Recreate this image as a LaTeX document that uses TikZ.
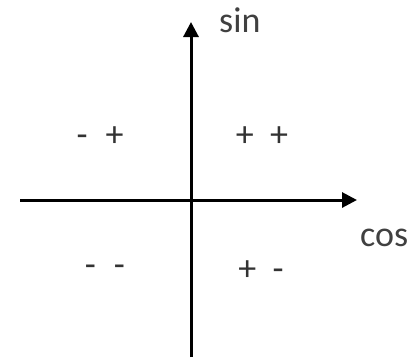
\documentclass[tikz,border=0pt]{standalone}
\usepackage{fontspec}
\setmainfont{Carlito}
\usetikzlibrary{arrows.meta}
\begin{document}
\begin{tikzpicture}[x=1bp,y=-1bp,
  axis/.style={line width=3bp,-{Triangle[length=15bp,width=15bp]}},
  lbl/.style={inner sep=0pt,text=black!75,font=\fontsize{36bp}{40bp}\selectfont},
  sgn/.style={inner sep=0pt,text=black!80,font=\fontsize{36bp}{40bp}\selectfont}]
\useasboundingbox (0,0) rectangle (419,359);
\coordinate (vb) at (191,357);
\coordinate (vt) at (191,22);
\coordinate (hl) at (20,200);
\coordinate (hr) at (357,200);
\draw[axis] (vb) -- (vt);
\draw[axis] (hl) -- (hr);
\node[lbl,anchor=base west] (sin) at (219,32) {sin};
\node[lbl,anchor=base west] (cos) at (360,246) {cos};
\node[sgn] (q2) at (100,137) {-\hspace{0.5em}+};
\node[sgn] (q1) at (262,137) {+\hspace{0.45em}+};
\node[sgn] (q3) at (105,271) {-\hspace{0.5em}-};
\node[sgn] (q4) at (261,271) {+\hspace{0.45em}-};
\end{tikzpicture}
\end{document}
